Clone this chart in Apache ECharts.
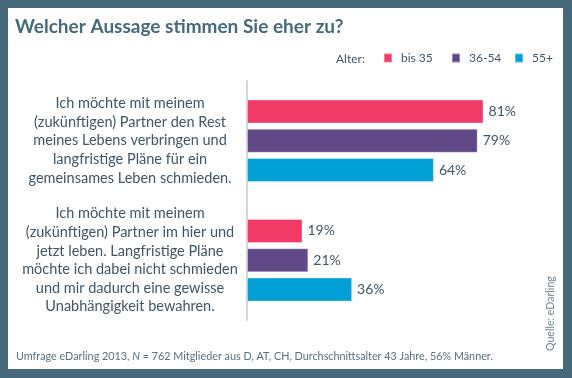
<!DOCTYPE html>
<html><head><meta charset="utf-8">
<script src="https://cdn.jsdelivr.net/npm/echarts@6/dist/echarts.min.js"></script>
<style>html,body{margin:0;padding:0;background:#fff}#c{width:572px;height:378px}</style>
</head><body><div id="c"></div>
<script>
const categories = [
  "Ich möchte mit meinem\n(zukünftigen) Partner den Rest\nmeines Lebens verbringen und\nlangfristige Pläne für ein\ngemeinsames Leben schmieden.",
  "Ich möchte mit meinem\n(zukünftigen) Partner im hier und\njetzt leben. Langfristige Pläne\nmöchte ich dabei nicht schmieden\nund mir dadurch eine gewisse\nUnabhängigkeit bewahren."
];
const seriesNames = ["bis 35", "36-54", "55+"];
const bis35 = [81, 19];
const age36to54 = [79, 21];
const age55plus = [64, 36];
const colors = ["#f23a66", "#614886", "#00a0d6"];

const FONT = "Lato";
const TXT = '#3f5668';
const chart = echarts.init(document.getElementById('c'), null, {renderer: 'canvas'});
const values = [bis35, age36to54, age55plus];
const legendLeft = [383, 451, 514];
chart.setOption({
  backgroundColor: '#46697c',
  textStyle: {fontFamily: FONT},
  animation: false,
  graphic: [
    {type: 'rect', z: -10, shape: {x: 8, y: 8, width: 555, height: 361}, style: {fill: '#ffffff'}},
    {type: 'text', x: 336, y: 59, style: {text: 'Alter:', font: '12px ' + FONT, fill: TXT, verticalAlign: 'middle'}},
    {type: 'text', x: 551, y: 351, rotation: Math.PI / 2, style: {text: 'Quelle: eDarling', font: '10.6px ' + FONT, fill: '#6a8596', verticalAlign: 'middle', align: 'left'}},
    {type: 'text', x: 16, y: 357, style: {
      verticalAlign: 'middle',
      rich: {n: {fontFamily: FONT, fontSize: 10.8, fill: '#557184', fontStyle: 'italic'}, t: {fontFamily: FONT, fontSize: 10.8, fill: '#557184'}},
      text: '{t|Umfrage eDarling 2013, }{n|N}{t| = 762 Mitglieder aus D, AT, CH, Durchschnittsalter 43 Jahre, 56% Männer.}'
    }}
  ],
  title: {
    text: 'Welcher Aussage stimmen Sie eher zu?',
    left: 15, top: 17, padding: 0,
    textStyle: {fontFamily: FONT, fontSize: 19, fontWeight: 'bold', color: '#46697c'}
  },
  legend: seriesNames.map((n, i) => ({
    data: [n],
    left: legendLeft[i], top: 52, padding: 0,
    itemWidth: 8, itemHeight: 9,
    icon: 'rect',
    textStyle: {fontFamily: FONT, fontSize: 12, color: TXT, padding: [2, 0, 0, 4]}
  })),
  grid: {left: 247, right: 33, top: 81, bottom: 58},
  xAxis: {type: 'value', min: 0, max: 100, show: false},
  yAxis: {
    type: 'category', data: categories, inverse: true,
    axisLine: {show: true, lineStyle: {color: '#d6d6d6', width: 2}},
    axisTick: {show: false},
    axisLabel: {margin: 117, align: 'center', fontFamily: FONT, fontSize: 14.5, lineHeight: 18.6, color: TXT}
  },
  series: seriesNames.map((n, i) => ({
    name: n, type: 'bar', data: values[i],
    barWidth: 24, barGap: '22%', barCategoryGap: '31%',
    itemStyle: {color: colors[i], borderColor: 'rgba(255,255,255,0.35)', borderWidth: 1},
    label: {show: true, position: 'right', distance: 5, formatter: '{c}%', fontFamily: FONT, fontSize: 14, color: TXT}
  }))
});
</script></body></html>
